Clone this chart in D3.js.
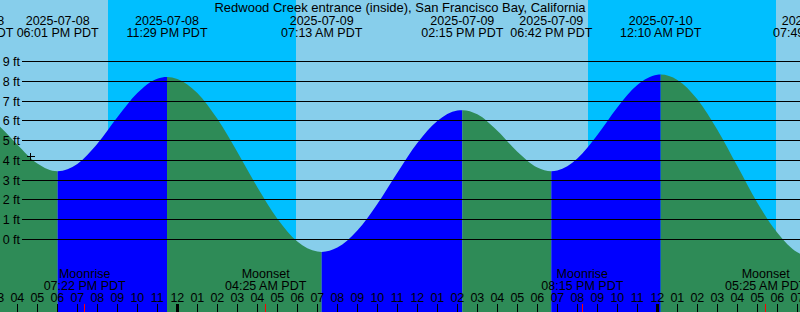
<!DOCTYPE html>
<html>
<head>
<meta charset="utf-8">
<script src="https://cdn.jsdelivr.net/npm/d3@7"></script>
<style>
  html, body { margin: 0; padding: 0; background: #87ceeb; overflow: hidden; }
  svg { display: block; }
  text { font-family: "Liberation Sans", Arial, sans-serif; font-size: 12.5px; fill: #000; }
</style>
</head>
<body>
<svg id="chart" width="800" height="312"></svg>
<script>
const title = 'Redwood Creek entrance (inside), San Francisco Bay, California';

// high / low tides, PDT wall clock
const extremeTimes = ['2025-07-08 13:45', '2025-07-08 18:01', '2025-07-08 23:29', '2025-07-09 07:13',
  '2025-07-09 14:15', '2025-07-09 18:42', '2025-07-10 00:10', '2025-07-10 07:49'];
const extremeHeights = [6.4, 3.45, 8.22, -0.63, 6.54, 3.45, 8.34, -0.9];

// water level on the hour, starting 2025-07-08 15:00
const tideStart = '2025-07-08 15:00';
const tideHeights = [5.81, 4.79, 3.84, 3.45, 3.82, 4.84, 6.18, 7.41, 8.13,
  8.12, 7.41, 6.10, 4.42, 2.64, 1.05, -0.10, -0.61, -0.41, 0.45, 1.80, 3.38, 4.88, 5.99, 6.52,
  6.33, 5.50, 4.44, 3.64, 3.49, 4.10, 5.29, 6.68, 7.81,
  8.33, 8.07, 7.09, 5.55, 3.71, 1.86, 0.34, -0.65];

// night (sunset -> sunrise)
const nightStarts = ['2025-07-08 20:32', '2025-07-09 20:32'];
const nightEnds = ['2025-07-09 05:56', '2025-07-10 05:56'];

const moonTimes = ['2025-07-08 19:22', '2025-07-09 04:25', '2025-07-09 20:15', '2025-07-10 05:25'];
const moonNames = ['Moonrise', 'Moonset', 'Moonrise', 'Moonset'];

const levelTicks = [0, 1, 2, 3, 4, 5, 6, 7, 8, 9];

const nowTime = '2025-07-08 16:40';
const nowHeight = 4.2;

const W = 800, H = 312;
const parse = d3.utcParse('%Y-%m-%d %H:%M');
const fmtDate = d3.utcFormat('%Y-%m-%d');
const fmtTime = d3.utcFormat('%I:%M %p PDT');
const fmtHour = d3.utcFormat('%I');

const x = d3.scaleUtc()
  .domain([parse('2025-07-08 15:08'), parse('2025-07-10 07:08')])
  .range([0, W]);
const y = d3.scaleLinear().domain([0, 9]).range([239.5, 61.5]);

const extremes = extremeTimes.map((t, i) => ({ t: parse(t), h: extremeHeights[i], ext: true }));
const hourly = tideHeights.map((h, i) => ({ t: d3.utcHour.offset(parse(tideStart), i), h, ext: false }));
const points = [...extremes, ...hourly].sort((a, b) => a.t - b.t);

const svg = d3.select('#chart');
const defs = svg.append('defs');

// day / night background
svg.append('rect').attr('width', W).attr('height', H).attr('fill', '#87ceeb');
svg.append('g')
  .selectAll('rect')
  .data(nightStarts)
  .join('rect')
  .attr('x', (d) => x(parse(d)))
  .attr('width', (d, i) => x(parse(nightEnds[i])) - x(parse(d)))
  .attr('y', 0).attr('height', H)
  .attr('fill', '#00bfff');

// water: one area, coloured per rising / falling stretch
const area = d3.area()
  .x((d) => x(d.t))
  .y0(H)
  .y1((d) => y(d.h))
  .curve(d3.curveMonotoneX);

const water = svg.append('g');
extremes.slice(0, -1).forEach((e, i) => {
  const next = extremes[i + 1];
  const id = 'seg' + i;
  defs.append('clipPath').attr('id', id)
    .append('rect')
    .attr('x', x(e.t)).attr('y', 0)
    .attr('width', x(next.t) - x(e.t)).attr('height', H);
  water.append('path')
    .datum(points)
    .attr('d', area)
    .attr('clip-path', `url(#${id})`)
    .attr('fill', next.h > e.h ? '#0000ff' : '#2e8b57');
});

// level lines + labels
svg.append('g')
  .selectAll('line')
  .data(levelTicks)
  .join('line')
  .attr('x1', 22).attr('x2', W)
  .attr('y1', (d) => Math.floor(y(d)) + 0.5)
  .attr('y2', (d) => Math.floor(y(d)) + 0.5)
  .attr('stroke', '#000').attr('stroke-width', 1)
  .attr('shape-rendering', 'crispEdges');

svg.append('g')
  .selectAll('text')
  .data(levelTicks)
  .join('text')
  .attr('x', 20).attr('y', (d) => y(d) + 4.5)
  .attr('text-anchor', 'end')
  .text((d) => d + ' ft');

// current time marker
const nx = Math.floor(x(parse(nowTime))) + 0.5;
const ny = Math.floor(y(nowHeight)) + 0.5;
svg.append('path')
  .attr('d', `M${nx - 4},${ny}H${nx + 4}M${nx},${ny - 4}V${ny + 4}`)
  .attr('stroke', '#000').attr('shape-rendering', 'crispEdges');

// high / low labels along the top
const extremeLabels = svg.append('g').attr('text-anchor', 'middle');
extremes.forEach((e) => {
  extremeLabels.append('text').attr('x', x(e.t)).attr('y', 24.5).text(fmtDate(e.t));
  extremeLabels.append('text').attr('x', x(e.t)).attr('y', 36.5).text(fmtTime(e.t));
});

svg.append('text')
  .attr('x', W / 2).attr('y', 11.5)
  .attr('text-anchor', 'middle')
  .style('font-size', '13px')
  .text(title);

// moon events
const moonLabels = svg.append('g').attr('text-anchor', 'middle');
moonTimes.forEach((t, i) => {
  const mx = x(parse(t));
  moonLabels.append('text').attr('x', mx).attr('y', 278).text(moonNames[i]);
  moonLabels.append('text').attr('x', mx).attr('y', 290).text(fmtTime(parse(t)));
});

// hour axis along the bottom
const hours = d3.utcHour.range(d3.utcHour.offset(x.domain()[0], -1), d3.utcHour.offset(x.domain()[1], 1));
svg.append('g')
  .selectAll('text')
  .data(hours)
  .join('text')
  .attr('x', (d) => x(d))
  .attr('y', 301.5)
  .attr('text-anchor', 'middle')
  .text((d) => fmtHour(d));

svg.append('g')
  .selectAll('line')
  .data(hours)
  .join('line')
  .attr('x1', (d) => Math.floor(x(d)) + 0.5)
  .attr('x2', (d) => Math.floor(x(d)) + 0.5)
  .attr('y1', 304).attr('y2', H)
  .attr('stroke', '#000')
  .attr('stroke-width', (d) => d.getUTCHours() === 0 ? 3 : 1)
  .attr('shape-rendering', 'crispEdges');

svg.append('g')
  .selectAll('line')
  .data(moonTimes)
  .join('line')
  .attr('x1', (d) => Math.floor(x(parse(d))) + 0.5)
  .attr('x2', (d) => Math.floor(x(parse(d))) + 0.5)
  .attr('y1', 304).attr('y2', H)
  .attr('stroke', '#ff0000')
  .attr('shape-rendering', 'crispEdges');
</script>
</body>
</html>
